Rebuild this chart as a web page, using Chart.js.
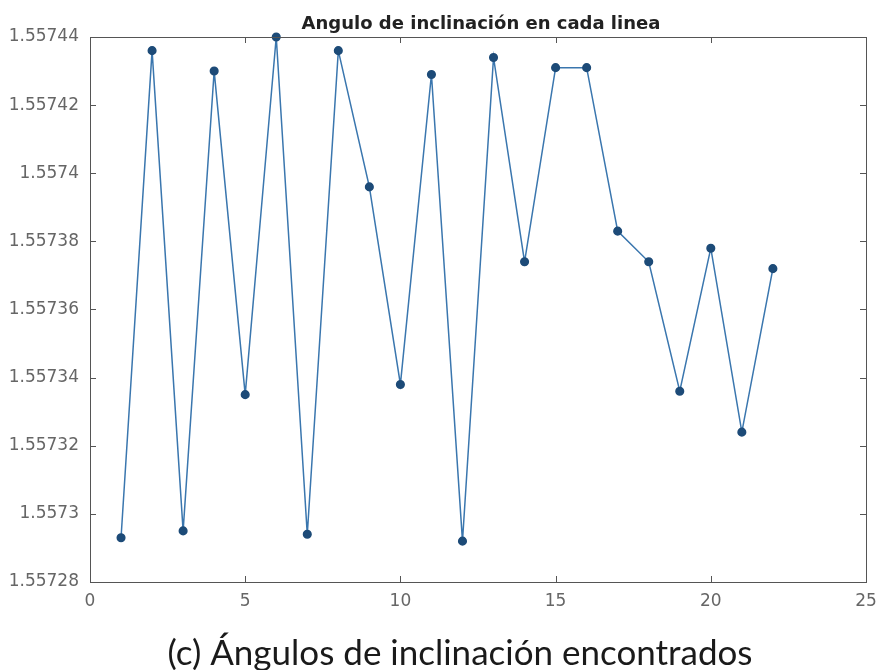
<!DOCTYPE html>
<html>
<head>
<meta charset="utf-8">
<script src="https://cdn.jsdelivr.net/npm/chart.js@4.4.1/dist/chart.umd.min.js"></script>
<style>
  html, body { margin: 0; padding: 0; background: #fff; }
  #wrap { width: 881px; height: 670px; }
</style>
</head>
<body>
<div id="wrap"><canvas id="angChart" width="881" height="670"></canvas></div>
<script>
// datos
const lineas = [1,2,3,4,5,6,7,8,9,10,11,12,13,14,15,16,17,18,19,20,21,22];
const angulos = [
  1.557293, 1.557436, 1.557295, 1.557430, 1.557335, 1.557440, 1.557294, 1.557436,
  1.557396, 1.557338, 1.557429, 1.557292, 1.557434, 1.557374, 1.557431, 1.557431,
  1.557383, 1.557374, 1.557336, 1.557378, 1.557324, 1.557372
];
const xTicks = [0, 5, 10, 15, 20, 25];
const yTicks = [1.55728, 1.5573, 1.55732, 1.55734, 1.55736, 1.55738, 1.5574, 1.55742, 1.55744];
const titulo = 'Angulo de inclinación en cada linea';
const leyenda = '(c) Ángulos de inclinación encontrados';

const axisColor = '#555';

// marco, marcas hacia dentro (estilo matlab) y textos
const boxPlugin = {
  id: 'boxTicks',
  afterDraw(chart) {
    const { ctx, chartArea: a, scales } = chart;
    ctx.save();
    ctx.strokeStyle = axisColor;
    ctx.lineWidth = 1;
    ctx.strokeRect(a.left + 0.5, a.top + 0.5, a.right - a.left, a.bottom - a.top);
    ctx.beginPath();
    xTicks.forEach(v => {
      const x = Math.round(scales.x.getPixelForValue(v)) + 0.5;
      ctx.moveTo(x, a.bottom); ctx.lineTo(x, a.bottom - 6);
      ctx.moveTo(x, a.top); ctx.lineTo(x, a.top + 6);
    });
    yTicks.forEach(v => {
      const y = Math.round(scales.y.getPixelForValue(v)) + 0.5;
      ctx.moveTo(a.left, y); ctx.lineTo(a.left + 6, y);
      ctx.moveTo(a.right, y); ctx.lineTo(a.right - 6, y);
    });
    ctx.stroke();

    const cx = (a.left + a.right) / 2;
    ctx.textAlign = 'center';
    ctx.textBaseline = 'alphabetic';
    ctx.fillStyle = '#222';
    ctx.font = 'bold 18px "DejaVu Sans"';
    ctx.fillText(titulo, cx + 3, 29);
    ctx.fillStyle = '#1a1a1a';
    ctx.font = '35px Lato';
    ctx.fillText(leyenda, 460, 665);
    ctx.restore();
  }
};

const ctx = document.getElementById('angChart').getContext('2d');
new Chart(ctx, {
  type: 'line',
  data: {
    datasets: [{
      label: 'angulo',
      data: lineas.map((x, i) => ({ x: x, y: angulos[i] })),
      borderColor: '#3a76ae',
      borderWidth: 1.5,
      pointBackgroundColor: '#1d4b78',
      pointBorderColor: '#1d4b78',
      pointRadius: 3.8,
      tension: 0,
      clip: false
    }]
  },
  plugins: [boxPlugin],
  options: {
    responsive: false,
    animation: false,
    layout: { padding: { left: 0, right: 15, top: 37, bottom: 0 } },
    plugins: {
      legend: { display: false },
      tooltip: { enabled: false },
      title: { display: false }
    },
    scales: {
      x: {
        type: 'linear',
        min: 0,
        max: 25,
        afterFit(scale) { scale.height = 88; },
        afterBuildTicks(scale) { scale.ticks = xTicks.map(v => ({ value: v })); },
        grid: { display: false },
        border: { display: false },
        ticks: {
          color: '#666',
          padding: 1,
          font: { family: 'DejaVu Sans', size: 17 }
        }
      },
      y: {
        type: 'linear',
        min: 1.55728,
        max: 1.55744,
        afterFit(scale) { scale.width = 90; },
        afterBuildTicks(scale) { scale.ticks = yTicks.map(v => ({ value: v })); },
        grid: { display: false },
        border: { display: false },
        ticks: {
          color: '#666',
          padding: 3,
          font: { family: 'DejaVu Sans', size: 17 },
          callback: v => String(parseFloat(v.toFixed(5)))
        }
      }
    }
  }
});
</script>
</body>
</html>
